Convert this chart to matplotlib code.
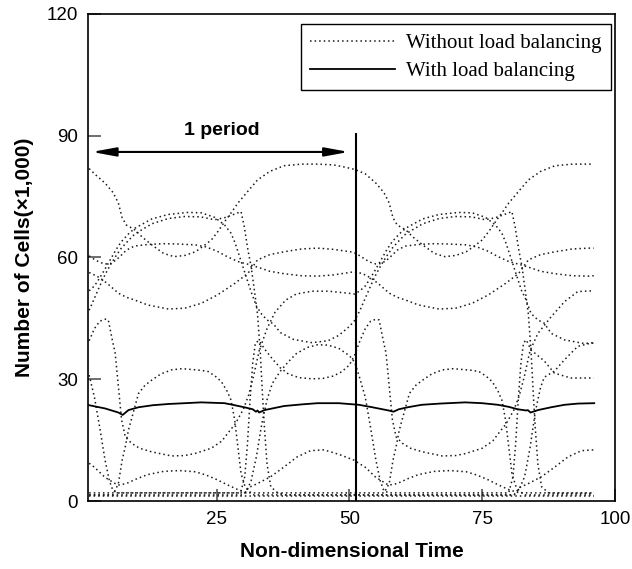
import matplotlib
matplotlib.use('Agg')
import matplotlib.pyplot as plt

plt.rcParams['font.family'] = ['Liberation Sans', 'DejaVu Sans']

# cells per processor (x1,000) without load balancing, one pair of lists per processor
time_1 = [1, 2, 4, 5.5, 6.5, 7.2, 8, 9.6, 11, 12.8, 15, 17, 19, 21, 22.5, 24, 25.3, 26.5, 28, 29, 31, 32.7, 35, 37.7, 41, 44, 47, 49, 51,
          53, 55, 56.5, 57.5, 58.2, 59, 60.6, 62, 63.8, 66, 68, 70, 72, 73.5, 75, 76.3, 77.5, 79, 80, 82, 83.7, 86, 88.7, 92, 95, 96]
cells_1 = [81.9, 80.6, 78.3, 76, 73.4, 69.8, 68, 66.8, 65, 63.1, 61, 60.2, 60.5, 61.4, 62.8, 64.3, 66.5, 68.8, 71.5, 73.4, 76.5, 79.1, 81.2, 82.6, 83, 83, 82.8, 82.3, 81.7,
           80.6, 78.3, 76, 73.4, 69.8, 68, 66.8, 65, 63.1, 61, 60.2, 60.5, 61.4, 62.8, 64.3, 66.5, 68.8, 71.5, 73.4, 76.5, 79.1, 81.2, 82.6, 83, 83, 83]

time_2 = [1, 2, 3, 4, 5, 6, 7, 8, 9.5, 12, 15, 18, 21, 23, 25, 27, 29, 31, 33, 35, 37.7, 41, 44, 47, 50, 51,
          52.5, 54, 55.5, 57.5, 59, 60.6, 63, 66.9, 70, 73.1, 76.2, 79.4, 81.9, 83.7, 86, 88.7, 92, 95, 96]
cells_2 = [60.4, 59.5, 58.8, 58.4, 58.5, 59.3, 60.5, 61.8, 62.8, 63.2, 63.4, 63.3, 63.1, 62.6, 61.6, 60.2, 59, 58.3, 57.5, 56.6, 56, 55.5, 55.4, 55.7, 56.3, 56.5,
           56, 55, 53.5, 51.2, 50.2, 49.5, 48.3, 47.3, 47.5, 48.7, 50.8, 53.6, 56.1, 59.4, 60.7, 61.4, 62.1, 62.3, 62.3]

time_3 = [1, 1.5, 3, 4.5, 6.5, 8, 9.6, 12, 15.9, 19, 22.1, 25.2, 28.4, 30.9, 32.7, 35, 37.7, 41, 44, 47, 50.2, 51,
          52, 53, 54, 55, 56, 57, 58, 59, 60.5, 63, 66, 69, 72, 74, 76, 78, 80, 82, 84, 86, 88.7, 92, 95, 96]
cells_3 = [56.3, 56, 55, 53.5, 51.2, 50.2, 49.5, 48.3, 47.3, 47.5, 48.7, 50.8, 53.6, 56.1, 59.4, 60.7, 61.4, 62.1, 62.3, 62, 61.4, 61.1,
           60.4, 59.5, 58.8, 58.4, 58.5, 59.3, 60.5, 61.8, 62.8, 63.2, 63.4, 63.3, 63.1, 62.6, 61.6, 60.2, 59, 58.3, 57.5, 56.6, 56, 55.5, 55.4, 55.5]

time_4 = [1, 2, 3, 4, 5, 6, 7, 8.4, 9.6, 12.8, 15.9, 19.6, 22.1, 24.6, 26.5, 27.7, 28.5, 29.5, 30.5, 31.5, 32.5, 33.5, 34.5, 35.7, 37, 39.5, 43, 46, 48, 50, 51,
          52, 53, 54, 55, 56, 57, 58, 59.4, 60.6, 63.8, 66.9, 70, 73, 75.6, 77.5, 79, 80.6, 81.2, 81.9, 82.5, 83.1, 83.7, 84.2, 84.6, 85, 85.5, 86.2, 87.5, 89, 96]
cells_4 = [51.8, 53, 55, 57.2, 59.5, 61.8, 63.8, 65.8, 67.2, 69.5, 70.6, 71.1, 71, 69.9, 68, 66, 63.5, 59.5, 55.5, 51.5, 48, 46, 44.6, 43.6, 41.5, 39.8, 39, 39.5, 40.8, 43, 44.5,
           47, 50, 53, 55.8, 58.2, 60.3, 62.2, 64.2, 65.8, 68.3, 69.6, 70.1, 70, 69.3, 69.8, 70.5, 71.3, 67.6, 61.8, 57.7, 52, 46, 37, 27, 18, 9, 3.5, 2, 1.9, 1.9]

time_5 = [1, 2, 3, 4, 5, 6, 7, 8.4, 9.6, 12.8, 15.9, 19, 22, 24.6, 26.5, 28, 29.6, 30.2, 30.9, 31.5, 32.1, 32.7, 33.2, 33.6, 34, 34.5, 35.2, 36.5, 38,
          81, 82, 83, 84, 85, 86, 86.7, 88.6, 90.5, 93, 95.5, 96]
cells_5 = [47, 50, 53, 55.8, 58.2, 60.3, 62.2, 64.2, 65.8, 68.3, 69.6, 70.1, 70, 69.3, 69.8, 70.5, 71.3, 67.6, 61.8, 57.7, 52, 46, 37, 27, 18, 9, 3.5, 2, 1.5,
           1.5, 3, 6, 13, 22, 28, 30.5, 32, 34.8, 38.1, 38.9, 38.9]

time_6 = [1, 2, 3, 4, 4.6, 5.3, 5.9, 6.5, 7.1, 7.8, 9, 10.5, 12.8, 16.5, 19, 20.9, 24, 26, 27.1, 28.5, 30, 31, 32, 33, 34.5, 36, 38, 40, 43, 46, 49, 51,
          52, 53, 54, 55, 56, 57, 58, 59.4, 60.6, 63.8, 66.9, 70.6, 73.1, 75.6, 77.5, 78.7, 79.5, 80.5, 81.5, 82.5, 83, 84.2, 85.5, 86.7, 88, 90.5, 94.2, 96]
cells_6 = [39.5, 42.5, 44.3, 44.8, 44.6, 40, 36.4, 28.2, 20, 15.8, 14.2, 13, 12.1, 11.1, 11.2, 11.7, 13, 14.8, 16.7, 19, 22.5, 26, 31, 37, 42.5, 46.5, 49.5, 51, 51.7, 51.7, 51.3, 51,
           51.8, 53, 55, 57.2, 59.5, 61.8, 63.8, 65.8, 67.2, 69.5, 70.6, 71.1, 71, 69.9, 68, 66, 63.5, 59.5, 55.5, 51.5, 50.4, 46.2, 44.6, 43.8, 41.3, 39.7, 38.8, 39]

time_7 = [1, 2, 3, 4, 4.8, 5.5, 6.5, 29.5, 30.3, 30.8, 31.3, 31.8, 32.3, 33, 34, 35.5, 37, 38.5, 40.5, 43, 45, 47, 48.5, 50, 51,
          52, 53, 54, 55, 55.6, 56.3, 56.9, 57.5, 58.1, 58.8, 60, 61.5, 63.8, 67.5, 70, 71.9, 75, 77, 78.1, 79.5, 81, 82, 83, 84, 85.5, 88, 90.5, 93, 96]
cells_7 = [31, 25.5, 18, 10, 5, 2.5, 2, 2, 6, 14, 25, 34, 39, 39.5, 37.5, 35, 32.8, 31.3, 30.4, 30.1, 30.2, 30.8, 31.8, 33.5, 36,
           39.5, 42.5, 44.3, 44.8, 44.6, 40, 36.4, 28.2, 20, 15.8, 14.2, 13, 12.1, 11.1, 11.2, 11.7, 13, 14.8, 16.7, 19, 22.5, 26, 31, 37, 41.3, 45.4, 49.1, 51.6, 51.8]

time_8 = [1, 2, 4, 6.4, 8, 10, 12, 15, 18, 21, 23, 25, 27, 29, 31,
          56.5, 57.5, 58.2, 58.8, 59.4, 60.6, 61.3, 62.5, 63.8, 65.5, 67.5, 69.5, 71.3, 73, 74.4, 75.7, 76.9, 78, 78.7, 79.4, 80, 80.6, 81.3, 82, 83, 96]
cells_8 = [9.3, 8.3, 5.8, 3.9, 4.3, 5.5, 6.5, 7.3, 7.5, 7.2, 6.4, 5.3, 4, 2.8, 2,
           2, 4.3, 10, 13.4, 17.5, 23.2, 26.5, 28.5, 29.8, 31.3, 32.3, 32.6, 32.4, 32.2, 31.9, 30.8, 29.4, 27, 24.9, 20, 13.4, 6.8, 3.8, 2.5, 1.5, 1.5]

time_9 = [1, 5.5, 6.5, 7.2, 7.8, 8.4, 9.6, 10.3, 11.5, 12.8, 14.5, 16.5, 18.5, 20.3, 22, 23.4, 24.7, 25.9, 27, 27.7, 28.4, 29, 29.6, 30.3, 31, 32,
          81, 82, 83.7, 86.2, 88.7, 91.2, 93.7, 96]
cells_9 = [1.5, 1.5, 4.3, 10, 13.4, 17.5, 23.2, 26.5, 28.5, 29.8, 31.3, 32.3, 32.6, 32.4, 32.2, 31.9, 30.8, 29.4, 27, 24.9, 20, 13.4, 6.8, 3.8, 2.5, 1.5,
           1.5, 3.3, 4.3, 6, 8.4, 10.9, 12.4, 12.6]

time_10 = [1, 30.5, 31.5, 32.5, 33.5, 34.5, 35.5, 37, 38.5, 40, 42, 44, 46, 48, 50, 51,
           51.9, 53, 54, 55, 55.8, 56.5, 57.5, 80, 80.8, 81.3, 81.8, 82.3, 82.8, 83.3, 84.2, 85.5, 86.7, 88.6, 91.7, 95.5, 96]
cells_10 = [2, 2, 5, 11, 19, 25, 29, 32, 34.3, 36.3, 37.8, 38.5, 38.4, 37.6, 35.8, 34.2,
            30.5, 25.5, 18, 10, 5, 2.5, 2, 2, 6, 14, 25, 34, 39, 39.7, 37.2, 35.8, 34.5, 31.5, 30.3, 30.3, 30.3]

time_11 = [1, 30, 31, 32.7, 35.2, 37.7, 40.2, 42.7, 45.2, 48, 50.8,
           53, 55, 57.4, 59, 61, 63, 66, 69, 72, 74, 76, 78, 80, 82, 96]
cells_11 = [1.5, 1.5, 3.3, 4.3, 6, 8.4, 10.9, 12.4, 12.6, 11.5, 10.1,
            8.3, 5.8, 3.9, 4.3, 5.5, 6.5, 7.3, 7.5, 7.2, 6.4, 5.3, 4, 2.8, 2, 2]

time_12 = [1, 96]
cells_12 = [1.2, 1.2]

# with load balancing
time_lb = [1, 4, 6.5, 7.3, 8.4, 10.3, 13, 15.9, 19, 22.1, 26.5, 28.4, 30.2, 31.8, 32.4, 32.7, 33, 34, 37.7, 41,
           44, 48, 51.8, 54.3, 57.4, 58.3, 59.3, 61, 63.6, 67, 71.8, 75, 78, 80, 81.7, 83.3, 83.6, 84.1, 85.5, 88,
           90.5, 93, 96.1]
cells_lb = [23.6, 22.8, 21.8, 21.2, 22.4, 23.1, 23.6, 23.9, 24.1, 24.3, 24.1, 23.6, 23.1, 22.6, 22, 22.3, 21.8, 22.4, 23.4, 23.8,
            24.1, 24.1, 23.7, 23.1, 22.3, 22, 22.6, 23.1, 23.7, 24, 24.3, 24.1, 23.7, 23.2, 22.6, 22.3, 22.4, 21.8, 22.4, 23.1,
            23.7, 24, 24.1]

period_start = 1.5
period_end = 49.9
period_line = 51.3

no_lb = [(time_1, cells_1), (time_2, cells_2), (time_3, cells_3), (time_4, cells_4),
         (time_5, cells_5), (time_6, cells_6), (time_7, cells_7), (time_8, cells_8),
         (time_9, cells_9), (time_10, cells_10), (time_11, cells_11), (time_12, cells_12)]

fig = plt.figure(figsize=(6.32, 5.69), dpi=100)
ax = fig.add_axes([0.139, 0.1195, 0.834, 0.856])

dots = (0, (1, 2))
for i, (t, c) in enumerate(no_lb):
    ax.plot(t, c, color='#1a1a1a', lw=1.1, linestyle=dots,
            label='Without load balancing' if i == 0 else None)
ax.plot(time_lb, cells_lb, color='black', lw=1.3, label='With load balancing')

ax.vlines(period_line, 0, 90.7, color='black', lw=1.5)
ax.annotate('', xy=(period_start, 86), xytext=(period_end, 86),
            arrowprops=dict(arrowstyle='<|-|>,head_length=1.2,head_width=0.22',
                            mutation_scale=12, color='black', lw=1.5,
                            shrinkA=0, shrinkB=0))
ax.text(26, 91.2, '1 period', ha='center', va='center', fontsize=14, fontweight='bold')

ax.set_xlim(0.75, 100)
ax.set_ylim(0, 120)
ax.set_xticks([25, 50, 75, 100])
ax.set_yticks([0, 30, 60, 90, 120])
ax.tick_params(direction='in', length=9, width=1.2, color='#555555', labelsize=13.5, pad=7)
for s in ax.spines.values():
    s.set_linewidth(1.2)

ax.set_xlabel('Non-dimensional Time', fontsize=15, fontweight='bold', labelpad=10)
ax.set_ylabel('Number of Cells(\u00d71,000)', fontsize=15, fontweight='bold', labelpad=9)

leg = ax.legend(loc='upper right', bbox_to_anchor=(0.992, 0.979), borderaxespad=0,
                prop={'family': 'Liberation Serif', 'size': 15}, handlelength=4.1,
                handletextpad=0.5, labelspacing=0.4, borderpad=0.45, fancybox=False,
                framealpha=1)
leg.get_frame().set_edgecolor('black')
leg.get_frame().set_linewidth(1.0)

fig.savefig('out.png', dpi=100)
